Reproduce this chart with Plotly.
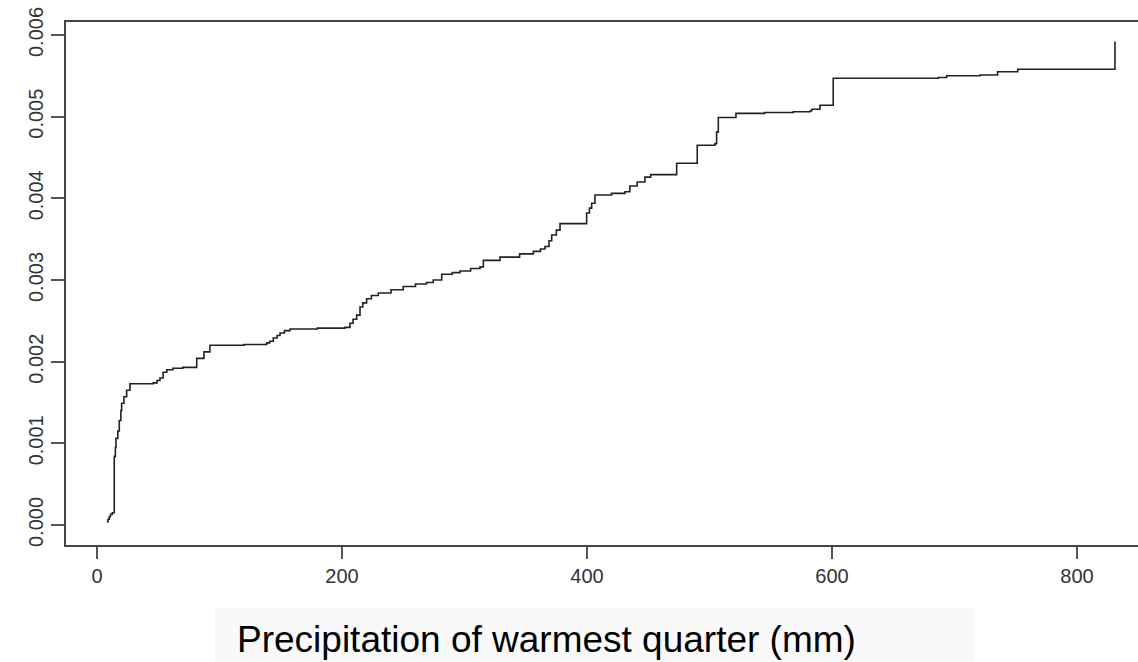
import plotly.graph_objects as go

# Step-curve data (x = precipitation, y = cumulative value)
precip = [7.9, 9.0, 10.0, 11.0, 12.5, 14.1, 15.0, 15.5, 17.0, 18.2, 19.5, 20.1, 22.0, 24.2, 26.9,
          46.0, 49.0, 51.4, 54.0, 57.0, 62.0, 70.0, 81.4, 87.3, 92.2, 120.0, 138.5, 141.0, 143.9,
          147.0, 149.4, 153.0, 157.6, 180.0, 202.4, 206.5, 209.0, 212.0, 214.7, 217.0, 220.1,
          224.0, 229.6, 240.0, 250.0, 260.0, 269.0, 274.5, 281.4, 290.0, 296.3, 305.0, 312.7,
          315.4, 329.0, 345.0, 356.2, 362.0, 365.7, 369.0, 371.2, 375.0, 378.0, 399.7, 402.0,
          403.8, 406.5, 420.0, 431.0, 435.0, 441.0, 447.3, 452.0, 473.2, 490.0, 504.5, 505.8,
          507.2, 521.6, 545.0, 568.4, 582.0, 583.4, 590.2, 601.0, 686.8, 693.6, 720.8, 735.2,
          751.6, 831.0]
value = [0.00004, 0.00007, 0.00010, 0.00013, 0.00015, 0.00084, 0.00095, 0.00106, 0.00115, 0.00128,
         0.00140, 0.00149, 0.00157, 0.00165, 0.00173, 0.00174, 0.00177, 0.00180, 0.00187, 0.00190,
         0.00192, 0.00193, 0.00204, 0.00212, 0.00220, 0.00221, 0.00223, 0.00225, 0.00229, 0.00232,
         0.00235, 0.00238, 0.00240, 0.00241, 0.00242, 0.00247, 0.00252, 0.00257, 0.00267, 0.00272,
         0.00277, 0.00281, 0.00284, 0.00288, 0.00292, 0.00295, 0.00297, 0.00300, 0.00307, 0.00309,
         0.00311, 0.00314, 0.00316, 0.00324, 0.00328, 0.00332, 0.00335, 0.00338, 0.00341, 0.00348,
         0.00355, 0.00361, 0.00369, 0.00382, 0.00388, 0.00394, 0.00404, 0.00406, 0.00408, 0.00415,
         0.00420, 0.00426, 0.00429, 0.00443, 0.00465, 0.00467, 0.00481, 0.00499, 0.00504, 0.00505,
         0.00506, 0.00507, 0.00509, 0.00514, 0.00547, 0.00548, 0.00550, 0.00551, 0.00555, 0.00558,
         0.00592]

x_ticks = [0, 200, 400, 600, 800]
y_ticks = [0.000, 0.001, 0.002, 0.003, 0.004, 0.005, 0.006]
y_tick_text = ["0.000", "0.001", "0.002", "0.003", "0.004", "0.005", "0.006"]
x_title = "Precipitation of warmest quarter (mm)"

W, H = 1138, 662
L, R, T, B = 66, 0, 22, 117

fig = go.Figure()
fig.add_trace(go.Scatter(x=precip, y=value, mode="lines", line_shape="hv",
                         line=dict(color="#222222", width=1.6), hoverinfo="skip"))

axis_font = dict(family="Liberation Sans, Arial, sans-serif", size=20, color="#333333")
fig.update_xaxes(range=[-25.3, 849.8], tickvals=x_ticks, ticks="outside", ticklen=12,
                 tickwidth=1.5, tickcolor="#555555", showline=True, linecolor="#444444",
                 linewidth=1.6, mirror=True, showgrid=False, zeroline=False,
                 tickfont=axis_font)
fig.update_yaxes(range=[-0.000245, 0.006159], tickvals=y_ticks, ticktext=y_tick_text,
                 ticks="outside", ticklen=13, tickwidth=1.5, tickcolor="#555555",
                 showline=True, linecolor="#444444", linewidth=1.6, mirror=False,
                 showgrid=False, zeroline=False, tickangle=-90, tickfont=axis_font)

pw, ph = W - L - R, H - T - B
def px_x(p):
    return (p - L) / pw
def px_y(p):
    return (H - B - p) / ph

fig.add_shape(type="rect", xref="paper", yref="paper", x0=px_x(215), x1=px_x(973),
              y0=px_y(668), y1=px_y(608), fillcolor="#f9f9f9", line=dict(width=0), layer="below")
fig.add_annotation(text=x_title, xref="paper", yref="paper", x=px_x(546.5), y=px_y(639),
                   xanchor="center", yanchor="middle", showarrow=False,
                   font=dict(family="Liberation Sans, Arial, sans-serif", size=37, color="#000000"))

fig.update_layout(width=W, height=H, margin=dict(l=L, r=R, t=T, b=B, pad=0),
                  plot_bgcolor="white", paper_bgcolor="white", showlegend=False)
fig.write_html("out.html")
